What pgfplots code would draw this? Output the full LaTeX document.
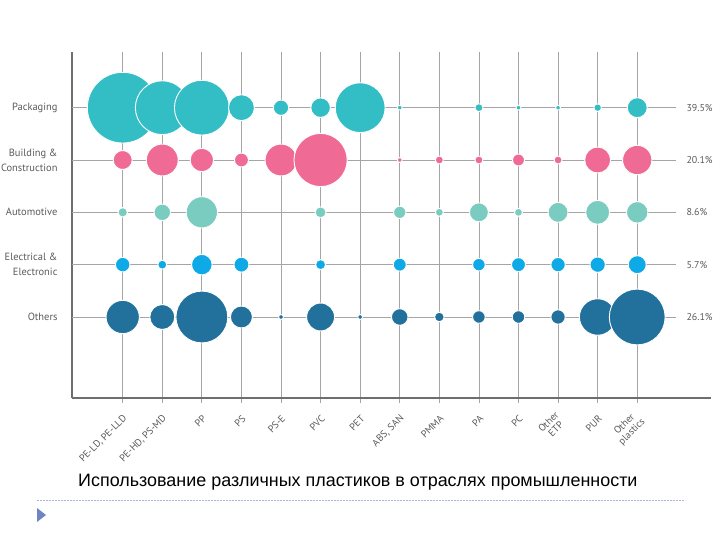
\documentclass[border=0pt]{standalone}
\usepackage{fontspec}
\setmainfont{PT Sans}
\newfontfamily\titlefont{Liberation Sans}
\usepackage{pgfplots}
\pgfplotsset{compat=1.18}
\usepackage{pgfplotstable}
\definecolor{cpack}{HTML}{33BDC5}
\definecolor{cbuild}{HTML}{EF6A94}
\definecolor{cauto}{HTML}{7ACCC0}
\definecolor{celec}{HTML}{0EAAE8}
\definecolor{coth}{HTML}{22709C}
\definecolor{cgrid}{HTML}{A5A5A5}
\definecolor{caxis}{HTML}{6E6E6E}
\definecolor{clabel}{HTML}{5A5A5A}
\definecolor{cdot}{HTML}{A9B4D9}
\definecolor{ctri}{HTML}{6E84C4}

% x = plastic index, y = sector row, r = bubble radius (pt)
\pgfplotstableread{
x y r
0 4 35.5
1 4 27
2 4 27.5
3 4 13
4 4 7.7
5 4 9.8
6 4 25
7 4 2.4
9 4 4
10 4 2.4
11 4 2.4
12 4 3.8
13 4 10
}\pack
\pgfplotstableread{
x y r
0 3 9.5
1 3 16
2 3 11.7
3 3 7
4 3 16
5 3 26.7
7 3 2.4
8 3 4
9 3 4
10 3 6
11 3 4
12 3 13
13 3 14.7
}\build
\pgfplotstableread{
x y r
0 2 4.7
1 2 8.3
2 2 15.7
5 2 5.5
7 2 6.2
8 2 4
9 2 9.5
10 2 4
11 2 10
12 2 12
13 2 10.8
}\auto
\pgfplotstableread{
x y r
0 1 7.3
1 1 4.5
2 1 10.3
3 1 7.5
5 1 5
7 1 6.5
9 1 6.3
10 1 7
11 1 7.2
12 1 7.7
13 1 9
}\elec
\pgfplotstableread{
x y r
0 0 16.7
1 0 12.5
2 0 26
3 0 11
4 0 2.4
5 0 14
6 0 2.4
7 0 8.3
8 0 4.8
9 0 6.3
10 0 6.3
11 0 7.2
12 0 18.3
13 0 28
}\oth

\pgfplotsset{bub/.style={only marks, scatter, mark=*,
  scatter/use mapped color={draw=white, fill=#1},
  visualization depends on={\thisrow{r}\as\rr},
  scatter/@pre marker code/.append style={/tikz/mark size=\rr},
  line width=0.9bp, mark options={line width=0.9bp}}}

\begin{document}
\begin{tikzpicture}
\useasboundingbox (0,0) rectangle (720bp,540bp);
\begin{axis}[
  at={(72bp,142bp)}, anchor=south west,
  scale only axis, width=639bp, height=346bp,
  xmin=-1.281, xmax=14.864, ymin=-1.548, ymax=5.064,
  axis x line*=bottom, axis y line*=left,
  axis line style={draw=caxis, line width=1.8bp},
  xtick={0,...,13}, ytick={0,...,4},
  xticklabels={{PE-LD, PE-LLD},{PE-HD, PS-MD},PP,PS,PS-E,PVC,PET,{ABS, SAN},PMMA,PA,PC,Other\\ETP,PUR,Other\\plastics},
  yticklabels={Others,Electrical \&\\Electronic,Automotive,Building \&\\Construction,Packaging},
  tick align=outside, major tick length=5bp,
  xmajorgrids, grid style={draw=cgrid, line width=0.8bp},
  xtick style={draw=cgrid, line width=0.8bp},
  ytick style={draw=none},
  xticklabel style={xshift=5bp, yshift=-11.5bp, rotate=45, anchor=east, align=center, text=clabel,
    font=\fontsize{10}{10.5}\selectfont},
  yticklabel style={align=right, text=clabel,
    font=\fontsize{10.5}{15}\selectfont, xshift=-6bp},
  clip=false,
]
\draw[cgrid, line width=0.8bp] (axis cs:-1.281,4) -- (axis cs:13.98,4);
\draw[cgrid, line width=0.8bp] (axis cs:-1.281,3) -- (axis cs:13.98,3);
\draw[cgrid, line width=0.8bp] (axis cs:-1.281,2) -- (axis cs:13.98,2);
\draw[cgrid, line width=0.8bp] (axis cs:-1.281,1) -- (axis cs:13.98,1);
\draw[cgrid, line width=0.8bp] (axis cs:-1.281,0) -- (axis cs:13.98,0);
\addplot[bub=cpack] table[x=x,y=y]{\pack};
\addplot[bub=cbuild] table[x=x,y=y]{\build};
\addplot[bub=cauto] table[x=x,y=y]{\auto};
\addplot[bub=celec] table[x=x,y=y]{\elec};
\addplot[bub=coth] table[x=x,y=y]{\oth};
\node[anchor=west, text=clabel, font=\fontsize{10}{12}\selectfont, xshift=7bp] at (axis cs:13.98,4) {39.5\%};
\node[anchor=west, text=clabel, font=\fontsize{10}{12}\selectfont, xshift=7bp] at (axis cs:13.98,3) {20.1\%};
\node[anchor=west, text=clabel, font=\fontsize{10}{12}\selectfont, xshift=7bp] at (axis cs:13.98,2) {8.6\%};
\node[anchor=west, text=clabel, font=\fontsize{10}{12}\selectfont, xshift=7bp] at (axis cs:13.98,1) {5.7\%};
\node[anchor=west, text=clabel, font=\fontsize{10}{12}\selectfont, xshift=7bp] at (axis cs:13.98,0) {26.1\%};
\end{axis}
\node[anchor=base west, inner sep=0pt, font=\titlefont\fontsize{18}{20}\selectfont] at (78bp,53bp) {Использование различных пластиков в отраслях промышленности};
\draw[cdot, line width=0.8bp, dash pattern=on 1.5bp off 1.5bp] (37bp,40bp) -- (685bp,40bp);
\fill[ctri] (37bp,32bp) -- (46bp,25bp) -- (37bp,18bp) -- cycle;
\end{tikzpicture}
\end{document}
